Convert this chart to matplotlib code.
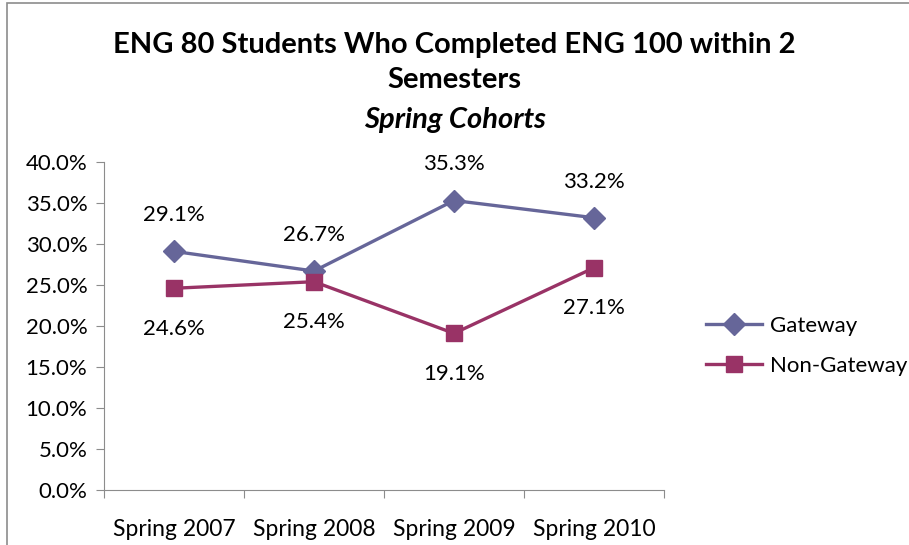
import matplotlib.pyplot as plt
from matplotlib.patches import Rectangle

# data
cohorts = ["Spring 2007", "Spring 2008", "Spring 2009", "Spring 2010"]
gateway = [29.1, 26.7, 35.3, 33.2]
non_gateway = [24.6, 25.4, 19.1, 27.1]
yticks = [0, 5, 10, 15, 20, 25, 30, 35, 40]

plt.rcParams["font.family"] = ["Lato", "DejaVu Sans"]

fig = plt.figure(figsize=(9.09, 5.45), dpi=100)
ax = fig.add_axes([0.1144, 0.1009, 0.6161, 0.6019])

# chart area border (cropped at right and bottom)
fig.patches.append(Rectangle((0.0077, -0.05), 1.1, 1.044, transform=fig.transFigure,
                             fill=False, edgecolor="#8c8c8c", linewidth=1.2))

x = range(len(cohorts))
ax.plot(x, gateway, color="#666699", linewidth=2.4, marker="D", markersize=11,
        label="Gateway", clip_on=False)
ax.plot(x, non_gateway, color="#993366", linewidth=2.4, marker="s", markersize=12,
        label="Non-Gateway", clip_on=False)

for i, v in enumerate(gateway):
    ax.annotate(f"{v:.1f}%", (i, v), xytext=(0, 26), textcoords="offset points",
                ha="center", va="center", fontsize=16)
for i, v in enumerate(non_gateway):
    ax.annotate(f"{v:.1f}%", (i, v), xytext=(0, -29), textcoords="offset points",
                ha="center", va="center", fontsize=16)

ax.set_xlim(-0.5, len(cohorts) - 0.5)
ax.set_ylim(0, 40)
ax.set_yticks(yticks)
ax.set_yticklabels([f"{t:.1f}%" for t in yticks], fontsize=16)
ax.set_xticks([i - 0.5 for i in range(len(cohorts) + 1)], minor=False)
ax.set_xticklabels([])
ax.set_xticks(list(x), minor=True)
ax.set_xticklabels(cohorts, minor=True, fontsize=16.5)
ax.tick_params(axis="x", which="minor", length=0, pad=21)
ax.tick_params(axis="x", which="major", length=6, color="#8c8c8c")
ax.tick_params(axis="y", length=6, color="#8c8c8c", pad=6)

for s in ["top", "right"]:
    ax.spines[s].set_visible(False)
for s in ["left", "bottom"]:
    ax.spines[s].set_color("#8c8c8c")

fig.text(0.5, 0.917, "ENG 80 Students Who Completed ENG 100 within 2", ha="center",
         va="center", fontsize=21, fontweight="bold")
fig.text(0.5, 0.853, "Semesters", ha="center", va="center", fontsize=21, fontweight="bold")
fig.text(0.5, 0.78, "Spring Cohorts", ha="center", va="center", fontsize=21,
         fontweight="bold", style="italic")

ax.legend(loc="center left", bbox_to_anchor=(1.04, 0.44), frameon=False, fontsize=16,
          handlelength=2.5, handletextpad=0.35, labelspacing=0.9)

fig.savefig("out.png", dpi=100)
